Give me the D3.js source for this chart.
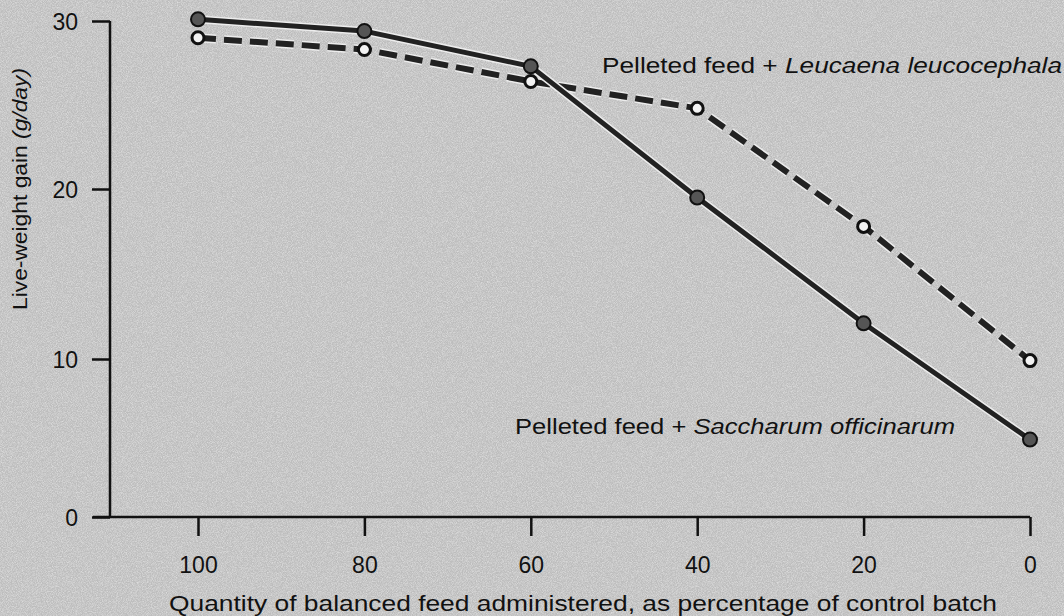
<!DOCTYPE html>
<html>
<head>
<meta charset="utf-8">
<script src="https://cdn.jsdelivr.net/npm/d3@7"></script>
<style>
  body { margin: 0; background: #c6c6c6; }
  svg text { font-family: "Liberation Sans", Arial, sans-serif; fill: #111; }
</style>
</head>
<body>
<div id="chart"></div>
<script>
// x categories: quantity of balanced feed, % of control batch
let feedPct = [100, 80, 60, 40, 20, 0];
// live-weight gain (g/day)
let saccharum = [30.1, 29.4, 27.3, 19.5, 12.1, 4.9];
let leucaena = [29.0, 28.3, 26.4, 24.8, 17.8, 9.9];
let yTicks = [0, 10, 20, 30];

let width = 1064, height = 616;

let svg = d3.select("#chart").append("svg")
    .attr("width", width)
    .attr("height", height);

// grainy scanned background
let defs = svg.append("defs");
let noise = defs.append("filter").attr("id", "grain")
    .attr("x", 0).attr("y", 0).attr("width", "100%").attr("height", "100%");
noise.append("feTurbulence")
    .attr("type", "fractalNoise")
    .attr("baseFrequency", 1.2)
    .attr("numOctaves", 1)
    .attr("seed", 3);
noise.append("feColorMatrix")
    .attr("type", "matrix")
    .attr("values", "0 0 0 0 1  0 0 0 0 1  0 0 0 0 1  0 0 0 -2 1.3");

svg.append("rect").attr("width", width).attr("height", height).attr("fill", "#bdbdbd");
svg.append("rect").attr("width", width).attr("height", height)
    .attr("fill", "#fff").attr("filter", "url(#grain)").attr("opacity", 0.5);

// scales (scanned figure: y axis spacing is slightly uneven)
let x = d3.scaleLinear().domain([100, 0]).range([198, 1030]);
let y = d3.scaleLinear().domain([0, 10, 20, 30]).range([517, 359, 189, 21]);

let axisX = 110, axisY = 517;

// y axis
let yAxis = svg.append("g")
    .attr("transform", "translate(" + axisX + ",0)")
    .call(d3.axisLeft(y).tickValues(yTicks).tickSize(18).tickPadding(14).tickSizeOuter(0));
yAxis.select(".domain").attr("d", "M0," + y(30) + "V" + axisY).attr("stroke", "#111").attr("stroke-width", 2.5);
yAxis.selectAll(".tick line").attr("stroke", "#111").attr("stroke-width", 2.5);
yAxis.selectAll(".tick text").style("font-size", "23px").attr("dy", "0.36em");

// x axis
let xAxis = svg.append("g")
    .attr("transform", "translate(0," + axisY + ")")
    .call(d3.axisBottom(x).tickValues(feedPct).tickSize(19).tickPadding(21).tickSizeOuter(0));
xAxis.select(".domain").attr("d", "M93,0H" + x(0)).attr("stroke", "#111").attr("stroke-width", 2.5);
xAxis.selectAll(".tick line").attr("stroke", "#111").attr("stroke-width", 2.5);
xAxis.selectAll(".tick text").style("font-size", "23px");

// axis titles
svg.append("text")
    .attr("x", 583).attr("y", 611)
    .attr("text-anchor", "middle")
    .attr("textLength", 828).attr("lengthAdjust", "spacingAndGlyphs")
    .style("font-size", "22px")
    .text("Quantity of balanced feed administered, as percentage of control batch");

let yTitle = svg.append("text")
    .attr("transform", "translate(27,189) rotate(-90)")
    .attr("text-anchor", "middle")
    .attr("textLength", 242).attr("lengthAdjust", "spacingAndGlyphs")
    .style("font-size", "21px");
yTitle.append("tspan").text("Live-weight gain ");
yTitle.append("tspan").style("font-style", "italic").text("(g/day)");

// series
let line = d3.line()
    .x((d, i) => x(feedPct[i]))
    .y(d => y(d));

function drawSeries(vals, dashed) {
    let g = svg.append("g");
    g.append("path")
        .datum(vals)
        .attr("d", line)
        .attr("fill", "none")
        .attr("stroke", "#ededed")
        .attr("stroke-width", dashed ? 9 : 8)
        .attr("stroke-dasharray", dashed ? "18,8" : null)
        .attr("stroke-linejoin", "round");
    g.append("path")
        .datum(vals)
        .attr("d", line)
        .attr("fill", "none")
        .attr("stroke", "#222")
        .attr("stroke-width", dashed ? 6 : 5)
        .attr("stroke-dasharray", dashed ? "18,8" : null)
        .attr("stroke-linejoin", "round");
    g.selectAll("circle")
        .data(vals)
        .enter().append("circle")
        .attr("cx", (d, i) => x(feedPct[i]))
        .attr("cy", d => y(d))
        .attr("r", dashed ? 6 : 7)
        .attr("fill", dashed ? "#f2f2f2" : "#555")
        .attr("stroke", "#111")
        .attr("stroke-width", dashed ? 3 : 2);
}

drawSeries(leucaena, true);
drawSeries(saccharum, false);

// series labels
let lab1 = svg.append("text")
    .attr("x", 602).attr("y", 73)
    .attr("textLength", 460).attr("lengthAdjust", "spacingAndGlyphs")
    .style("font-size", "22px");
lab1.append("tspan").text("Pelleted feed + ");
lab1.append("tspan").style("font-style", "italic").text("Leucaena leucocephala");

let lab2 = svg.append("text")
    .attr("x", 515).attr("y", 434)
    .attr("textLength", 440).attr("lengthAdjust", "spacingAndGlyphs")
    .style("font-size", "22px");
lab2.append("tspan").text("Pelleted feed + ");
lab2.append("tspan").style("font-style", "italic").text("Saccharum officinarum");
</script>
</body>
</html>
